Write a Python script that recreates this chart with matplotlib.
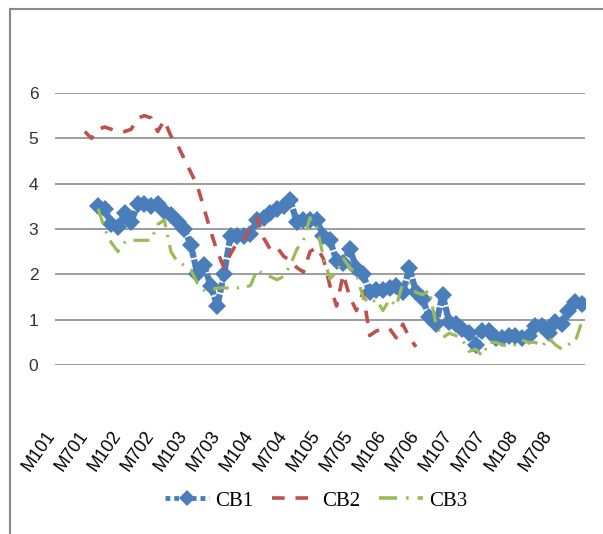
import numpy as np
import matplotlib
matplotlib.use("Agg")
import matplotlib.pyplot as plt
from matplotlib.patches import Rectangle
from matplotlib.lines import Line2D
from matplotlib.legend_handler import HandlerLine2D

# category labels shown on the x axis (one every 5 categories)
tick_labels = ["M101", "M701", "M102", "M702", "M103", "M703", "M104", "M704",
               "M105", "M705", "M106", "M706", "M107", "M707", "M108", "M708"]
label_step = 5
n_cat = 80

nan = None
# series values, one per category (None = no value)
cb1 = [nan, nan, nan, nan, nan, nan, 3.5, 3.45, 3.1, 3.05,
       3.35, 3.15, 3.55, 3.55, 3.5, 3.55, 3.4, 3.3, 3.15, 3.0,
       2.65, 2.0, 2.2, 1.75, 1.3, 2.0, 2.85, 2.85, 2.85, 2.9,
       3.2, 3.25, 3.35, 3.45, 3.5, 3.65, 3.15, 3.2, 3.2, 3.2,
       2.85, 2.75, 2.3, 2.25, 2.55, 2.15, 2.0, 1.6, 1.65, 1.65,
       1.7, 1.75, 1.6, 2.15, 1.6, 1.45, 1.05, 0.9, 1.55, 0.95,
       0.9, 0.8, 0.7, 0.45, 0.75, 0.75, 0.6, 0.6, 0.65, 0.65,
       0.6, 0.65, 0.85, 0.85, 0.7, 0.95, 0.9, 1.2, 1.4, 1.35]

cb2 = [nan, nan, nan, nan, 5.15, 5.0, 5.2, 5.25, 5.2, 5.15,
       5.15, 5.2, 5.45, 5.5, 5.45, 5.15, 5.4, 5.05, 4.85, 4.55,
       4.25, 3.95, 3.45, 2.95, 2.5, 2.15, 2.45, 2.7, 2.8, 3.0,
       3.25, 2.8, 2.55, 2.6, 2.4, 2.3, 2.15, 2.05, 2.5, 2.6,
       2.35, 1.75, 1.3, 2.0, 1.5, 1.2, 1.6, 0.65, 0.75, 0.8,
       0.8, 0.6, 0.9, 0.6, 0.4, nan, nan, nan, nan, nan,
       nan, nan, nan, nan, nan, nan, nan, nan, nan, nan,
       nan, nan, nan, nan, nan, nan, nan, nan, nan, nan]

cb3 = [nan, nan, nan, nan, nan, nan, 3.45, 3.0, 2.7, 2.5,
       2.7, 2.75, 2.75, 2.75, 2.75, 3.1, 3.2, 2.5, 2.27, 2.2,
       2.1, 1.8, 1.65, 1.65, 1.7, 1.7, 1.7, 1.7, 1.72, 1.75,
       2.1, 2.0, 1.95, 1.88, 1.95, 2.2, 2.55, 2.75, 3.25, 3.05,
       2.4, 1.9, 2.05, 2.35, 2.15, 2.0, 1.5, 1.35, 1.45, 1.2,
       1.45, 1.3, 1.8, 1.8, 1.6, 1.55, 1.65, 0.9, 0.6, 0.7,
       0.65, 0.55, 0.3, 0.35, 0.2, 0.5, 0.5, 0.45, 0.4, 0.45,
       0.55, 0.5, 0.5, 0.4, 0.6, 0.45, 0.35, 0.45, 0.5, 0.95]

blue = "#4a7ebb"
red = "#c0504d"
green = "#9bbb59"


class EndMarkerHandler(HandlerLine2D):
    # legend line with the marker drawn at the right end (like Excel)
    def get_xdata(self, legend, xdescent, ydescent, width, height, fontsize):
        xdata = np.array([-xdescent, -xdescent + width])
        return xdata, np.array([-xdescent + width])


fig = plt.figure(figsize=(6.03, 5.34), dpi=100)
ax = fig.add_axes([55 / 603, 1 - 365 / 534, 530 / 603, 272 / 534])

x = np.arange(n_cat)
y1 = np.array(cb1, dtype=float)
y2 = np.array(cb2, dtype=float)
y3 = np.array(cb3, dtype=float)

# CB1 is so dense in the original that it reads as a thick band
ax.plot(x, y1, color=blue, lw=4.5, ls=(0, (1.6, 0.3)),
        marker="D", ms=9, markeredgewidth=0)
ax.plot(x, y2, color=red, lw=2.6, ls=(0, (3.5, 3)))
ax.plot(x, y3, color=green, lw=2.3, ls=(0, (5, 2.5, 0.7, 2.5)))

ax.set_xlim(-0.5, n_cat - 0.5)
ax.set_ylim(0, 6)
ax.set_yticks(range(0, 7))
ax.set_xticks(range(0, n_cat, label_step))
ax.set_xticklabels(tick_labels, rotation=55, ha="right", va="top",
                   fontsize=13, family=["Liberation Sans", "DejaVu Sans"])
for t in ax.get_yticklabels():
    t.set_fontsize(12.5)
    t.set_family(["Liberation Sans Narrow", "Liberation Sans", "DejaVu Sans"])
    t.set_color("#333333")
ax.tick_params(axis="y", length=0, pad=12)
ax.tick_params(axis="x", length=0, pad=45)

# horizontal grid only, no box
ax.grid(axis="y", color="#8c8c8c", lw=1.2)
ax.set_axisbelow(True)
for s in ax.spines.values():
    s.set_visible(False)

# legend proxies
h1 = Line2D([], [], color=blue, lw=3.5, ls=(0, (1.0, 0.8)), marker="D", ms=8,
            markeredgewidth=0, label="CB1")
h2 = Line2D([], [], color=red, lw=2.6, ls=(0, (3.5, 3)), label="CB2")
h3 = Line2D([], [], color=green, lw=2.6, ls=(0, (5, 2.5, 0.7, 2.5)), label="CB3")
leg = fig.legend(handles=[h1, h2, h3], loc="center", ncol=3,
                 bbox_to_anchor=(316 / 603, 1 - 501 / 534), frameon=False,
                 prop={"family": "Liberation Serif", "size": 15},
                 handlelength=2.1, handletextpad=0.3, columnspacing=0.9,
                 handler_map={h1: EndMarkerHandler()})

# outer frame of the chart
fig.add_artist(Rectangle((10 / 603, -0.1), 1.2, 1.1 - 9 / 534, transform=fig.transFigure,
                         fill=False, edgecolor="#8a8a8a", lw=1.5))

fig.savefig("out.png", dpi=100)
